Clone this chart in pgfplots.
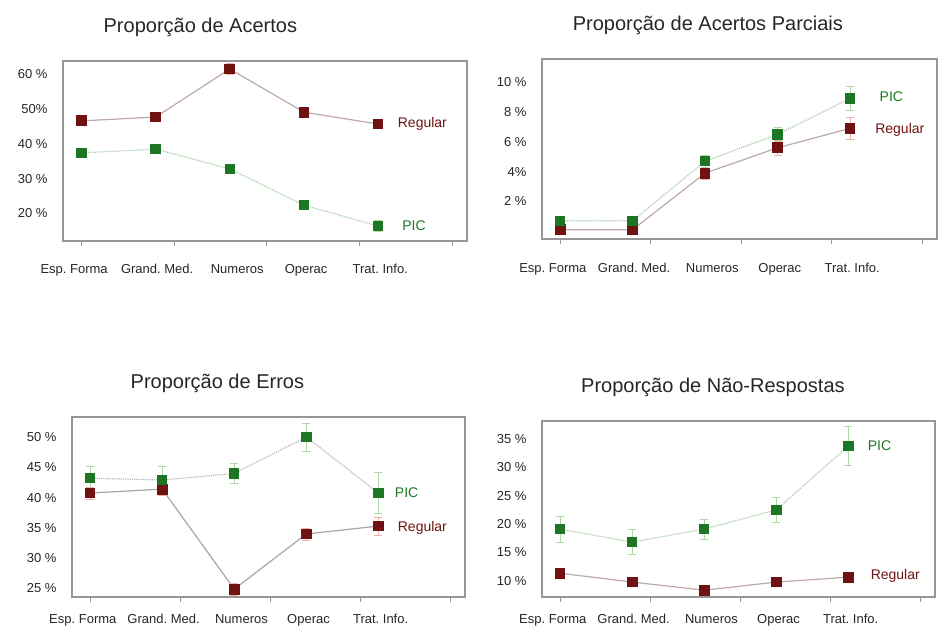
\documentclass[border=0pt]{standalone}
\usepackage{fontspec}
\setmainfont{Liberation Sans}
\usepackage{pgfplots}
\pgfplotsset{compat=1.18}
\frenchspacing
\definecolor{reg}{RGB}{112,18,18}
\definecolor{pic}{RGB}{28,118,36}
\definecolor{regline}{RGB}{190,168,168}
\definecolor{picline}{RGB}{172,206,172}
\definecolor{regerr}{RGB}{238,175,165}
\definecolor{picerr}{RGB}{172,218,162}
\definecolor{frame}{RGB}{150,150,150}
\pgfplotsset{
  panel/.style={
    scale only axis, clip=false,
    axis line style={frame, line width=1.3pt},
    xmin=-0.25, xmax=5.2,
    tick pos=left,
    xtick={-0.1,1.02,2.1,3.03,4.03},
    xticklabels={Esp. Forma, Grand. Med., Numeros, Operac, Trat. Info.},
    major tick length=0pt,
    extra x ticks={0,1.25,2.5,3.75,5}, extra x tick labels={},
    extra x tick style={major tick length=5pt, tick align=outside},
    tick style={frame, line width=1pt},
    xticklabel style={font=\fontsize{13}{13}\selectfont\frenchspacing, text=black!85, yshift=-14pt},
    yticklabel style={font=\fontsize{13}{13}\selectfont, text=black!85, xshift=-12pt},
    title style={font=\fontsize{20}{20}\selectfont, text=black!85, anchor=center, yshift=28pt},
  },
  regplot/.style={color=regline, line width=1.2pt, mark=square*, mark size=4.8pt,
    mark options={solid, fill=reg, draw=reg},
    error bars/y dir=both, error bars/y explicit,
    error bars/error bar style={regerr, line width=0.8pt, solid},
    error bars/error mark options={rotate=90, mark size=4pt, regerr, line width=0.8pt}},
  picplot/.style={color=picline, line width=1.2pt, densely dotted, mark=square*, mark size=4.6pt,
    mark options={solid, fill=pic, draw=pic},
    error bars/y dir=both, error bars/y explicit,
    error bars/error bar style={picerr, line width=0.8pt, solid},
    error bars/error mark options={rotate=90, mark size=4pt, picerr, line width=0.8pt}},
}
\begin{document}
\begin{tikzpicture}[x=1pt,y=1pt]
\useasboundingbox (0pt,0pt) rectangle (938pt,635pt);
% ---------------- Panel 1
\begin{axis}[panel, at={(63pt,394pt)}, anchor=south west, width=404pt, height=180pt,
  ymin=12.1, ymax=63.8,
  ytick={20,30,40,50,60}, yticklabels={20 \%,30 \%,40 \%,50\%,60 \%},
  xticklabel style={yshift=-6pt},
  title={Proporção de Acertos}, title style={at={(0.34,1)}}]
\addplot[regplot] coordinates {(0,46.6)+-(0,1.2) (1,47.7)+-(0,1.2) (2,61.5)+-(0,1.5) (3,49.1)+-(0,1.3) (4,45.7)+-(0,1.2)};
\addplot[picplot] coordinates {(0,37.4)+-(0,1.0) (1,38.5)+-(0,1.0) (2,32.8)+-(0,1.0) (3,22.4)+-(0,1.0) (4,16.4)+-(0,1.5)};
\node[anchor=west, text=reg, font=\fontsize{14}{14}\selectfont] at (axis cs:4.22,45.7) {Regular};
\node[anchor=west, text=pic, font=\fontsize{14}{14}\selectfont] at (axis cs:4.28,16.4) {PIC};
\end{axis}
% ---------------- Panel 2
\begin{axis}[panel, at={(542pt,396pt)}, anchor=south west, width=395pt, height=180pt,
  ymin=-0.52, ymax=11.56,
  ytick={2,4,6,8,10}, yticklabels={2 \%,4\%,6 \%,8 \%,10 \%},
  xticklabel style={yshift=-7pt},
  title={Proporção de Acertos Parciais}, title style={at={(0.42,1)}}]
\addplot[regplot] coordinates {(0,0.1)+-(0,0.3) (1,0.1)+-(0,0.3) (2,3.9)+-(0,0.4) (3,5.6)+-(0,0.5) (4,6.9)+-(0,0.75)};
\addplot[picplot] coordinates {(0,0.7)+-(0,0.3) (1,0.7)+-(0,0.3) (2,4.7)+-(0,0.4) (3,6.5)+-(0,0.5) (4,8.9)+-(0,0.8)};
\node[anchor=west, text=reg, font=\fontsize{14}{14}\selectfont] at (axis cs:4.3,6.8) {Regular};
\node[anchor=west, text=pic, font=\fontsize{14}{14}\selectfont] at (axis cs:4.36,9.0) {PIC};
\end{axis}
% ---------------- Panel 3
\begin{axis}[panel, at={(72pt,38pt)}, anchor=south west, width=393pt, height=180pt,
  ymin=23.6, ymax=53.3,
  ytick={25,30,35,40,45,50}, yticklabels={25 \%,30 \%,35 \%,40 \%,45 \%,50 \%},
  title={Proporção de Erros}, title style={at={(0.37,1)}}]
\addplot[regplot, draw=black!35] coordinates {(0,40.75)+-(0,1.0) (1,41.4)+-(0,1.0) (2,24.9)+-(0,1.0) (3,34.0)+-(0,1.0) (4,35.3)+-(0,1.5)};
\addplot[picplot, draw=black!28] coordinates {(0,43.2)+-(0,2.0) (1,42.9)+-(0,2.3) (2,44.0)+-(0,1.6) (3,50.0)+-(0,2.3) (4,40.75)+-(0,3.4)};
\node[anchor=west, text=reg, font=\fontsize{14}{14}\selectfont] at (axis cs:4.22,35.0) {Regular};
\node[anchor=west, text=pic, font=\fontsize{14}{14}\selectfont] at (axis cs:4.18,40.75) {PIC};
\end{axis}
% ---------------- Panel 4
\begin{axis}[panel, at={(542pt,38pt)}, anchor=south west, width=393pt, height=176pt,
  ymin=7.1, ymax=38.2,
  ytick={10,15,20,25,30,35}, yticklabels={10 \%,15 \%,20 \%,25 \%,30 \%,35 \%},
  title={Proporção de Não-Respostas}, title style={at={(0.435,1)}}]
\addplot[regplot] coordinates {(0,11.3)+-(0,0.8) (1,9.74)+-(0,0.8) (2,8.3)+-(0,0.8) (3,9.74)+-(0,0.8) (4,10.6)+-(0,0.8)};
\addplot[picplot] coordinates {(0,19.1)+-(0,2.3) (1,16.8)+-(0,2.2) (2,19.1)+-(0,1.8) (3,22.5)+-(0,2.2) (4,33.8)+-(0,3.4)};
\node[anchor=west, text=reg, font=\fontsize{14}{14}\selectfont] at (axis cs:4.26,10.8) {Regular};
\node[anchor=west, text=pic, font=\fontsize{14}{14}\selectfont] at (axis cs:4.22,33.8) {PIC};
\end{axis}
\end{tikzpicture}
\end{document}
